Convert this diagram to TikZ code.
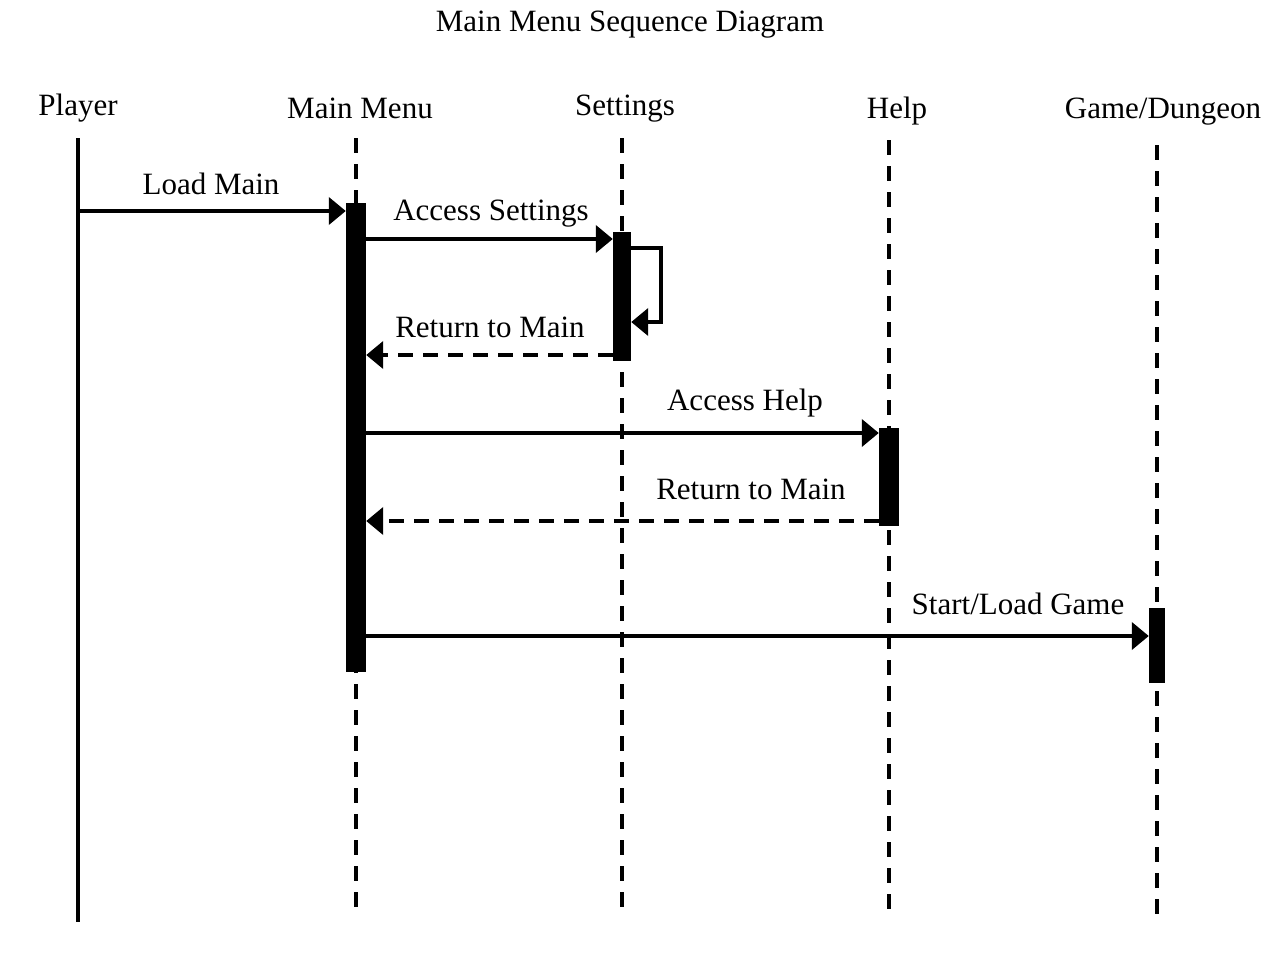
\documentclass[tikz,border=0pt]{standalone}
\usepackage{fontspec}
\setmainfont{Liberation Serif}
\usetikzlibrary{arrows.meta}
\begin{document}
\begin{tikzpicture}[x=1pt,y=-1pt,
  lbl/.style={font=\fontsize{31}{36}\selectfont, anchor=base, inner sep=0pt},
  lifeline/.style={line width=4.5pt, dash pattern=on 15pt off 11pt},
  actbar/.style={fill=black, draw=none},
  msg/.style={line width=4pt, -{Triangle[length=17pt,width=27pt]}},
  ret/.style={msg, dash pattern=on 15pt off 10pt}]
\useasboundingbox (0,0) rectangle (1288,954);
% title and headers
\node[lbl] (title) at (630,31) {Main Menu Sequence Diagram};
\node[lbl] (hP) at (78,115) {Player};
\node[lbl] (hM) at (360,118) {Main Menu};
\node[lbl] (hS) at (625,115) {Settings};
\node[lbl] (hH) at (897,118) {Help};
\node[lbl] (hG) at (1163,118) {Game/Dungeon};
% lifelines
\coordinate (pT) at (78,138); \coordinate (pB) at (78,922);
\coordinate (mT) at (356,138); \coordinate (mB) at (356,918);
\coordinate (sT) at (622,138); \coordinate (sB) at (622,918);
\coordinate (hT) at (889,140); \coordinate (hB) at (889,918);
\coordinate (gT) at (1157,145); \coordinate (gB) at (1157,922);
\draw[line width=4.5pt] (pT) -- (pB);
\draw[lifeline] (mT) -- (mB);
\draw[lifeline] (sT) -- (sB);
\draw[lifeline] (hT) -- (hB);
\draw[lifeline] (gT) -- (gB);
% activation bars
\node[actbar, minimum width=20pt, minimum height=469pt, inner sep=0pt] (aM) at (356,437.5) {};
\node[actbar, minimum width=18pt, minimum height=129pt, inner sep=0pt] (aS) at (622,296.5) {};
\node[actbar, minimum width=20pt, minimum height=98pt, inner sep=0pt] (aH) at (889,477) {};
\node[actbar, minimum width=16pt, minimum height=75pt, inner sep=0pt] (aG) at (1157,645.5) {};
% messages
\coordinate (p1) at (78,211);
\draw[msg] (p1) -- (aM.west |- p1);
\node[lbl] (l1) at (211,194) {Load Main};
\coordinate (y2) at (0,239);
\draw[msg] (aM.east |- y2) -- (aS.west |- y2);
\node[lbl] (l2) at (491,220) {Access Settings};
\coordinate (y3a) at (0,248); \coordinate (y3b) at (0,322);
\draw[line width=4pt, -{Triangle[length=17pt,width=27pt]}] (aS.east |- y3a) -- (661,248) -- (661,322) -- (aS.east |- y3b);
\coordinate (y4) at (0,355);
\draw[ret] (aS.west |- y4) -- (aM.east |- y4);
\node[lbl] (l3) at (490,337) {Return to Main};
\coordinate (y5) at (0,433);
\draw[msg] (aM.east |- y5) -- (aH.west |- y5);
\node[lbl] (l4) at (745,410) {Access Help};
\coordinate (y6) at (0,521);
\draw[ret] (aH.west |- y6) -- (aM.east |- y6);
\node[lbl] (l5) at (751,499) {Return to Main};
\coordinate (y7) at (0,636);
\draw[msg] (aM.east |- y7) -- (aG.west |- y7);
\node[lbl] (l6) at (1018,614) {Start/Load Game};
\end{tikzpicture}
\end{document}
